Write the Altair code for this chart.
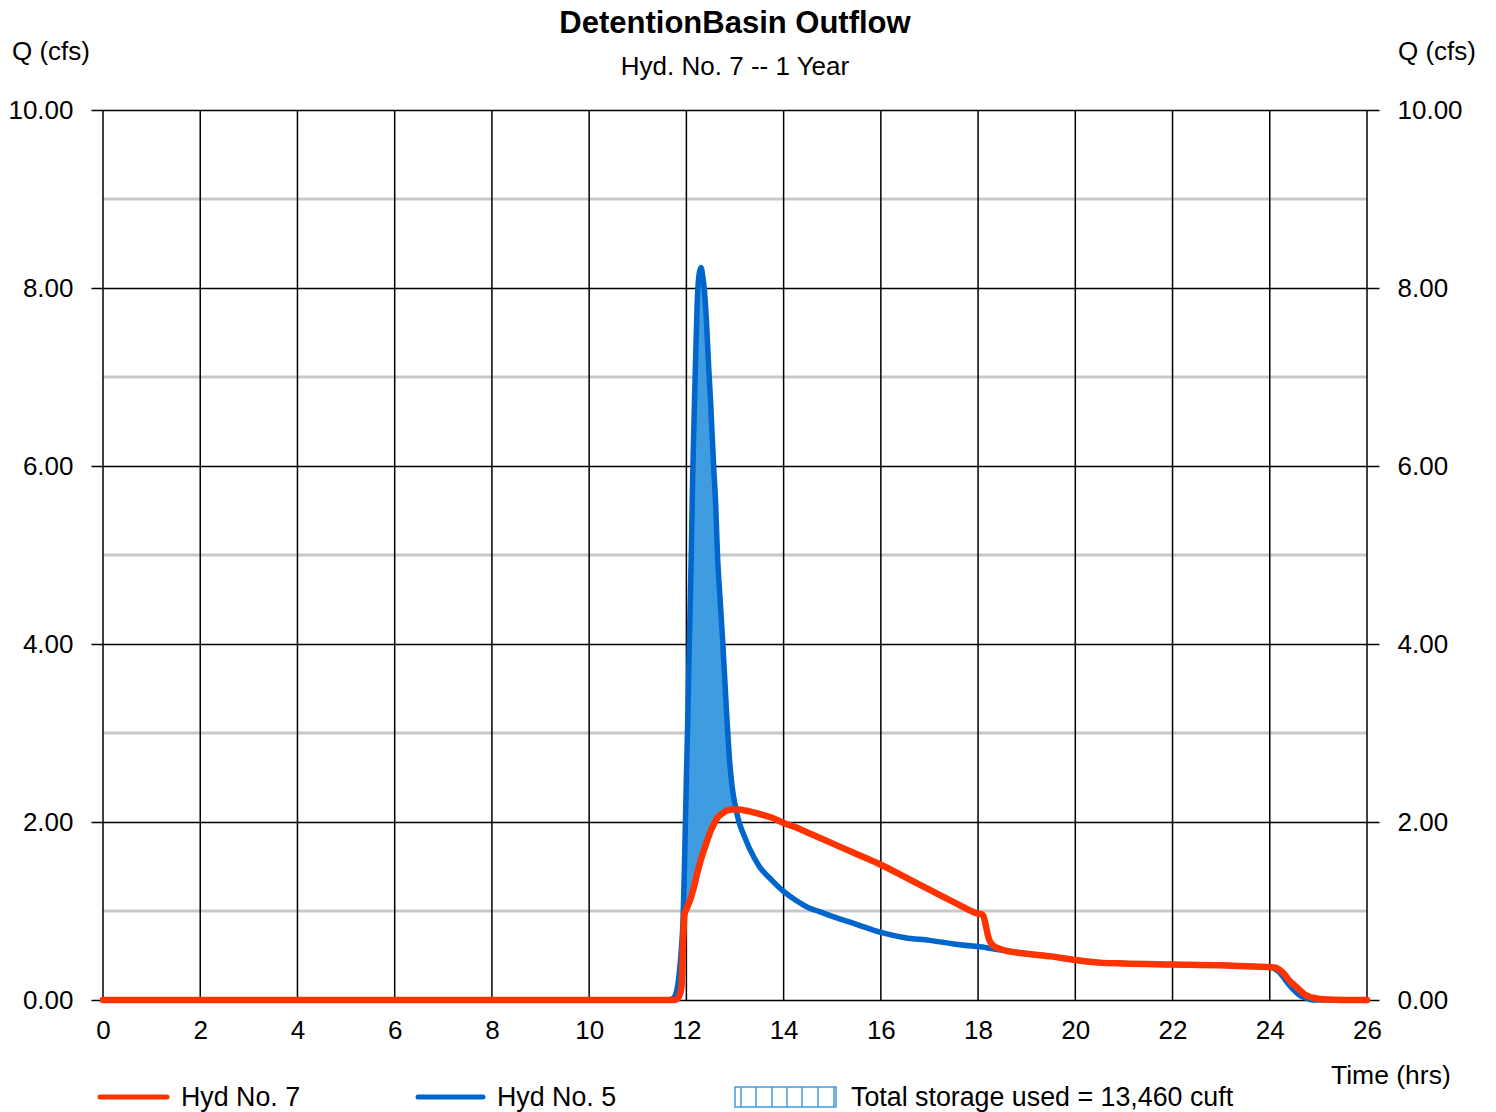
import altair as alt
import pandas as pd

FONT = "Liberation Sans"

# ---- data ----
TIME = [0, 11.6, 11.7, 11.75, 11.8, 11.85, 11.9, 11.93, 11.96, 12.0, 12.03, 12.06, 12.1, 12.13,
        12.18, 12.22, 12.26, 12.3, 12.34, 12.37, 12.42, 12.46, 12.5, 12.56, 12.6, 12.64, 12.7,
        12.75, 12.8, 12.84, 12.88, 12.92, 12.96, 13.0, 13.05, 13.1, 13.2, 13.3, 13.5, 13.75,
        14.0, 14.25, 14.5, 14.75, 15.0, 15.5, 16.0, 16.5, 17.0, 17.5, 18.0, 18.1, 18.15, 18.2,
        18.3, 18.5, 19.0, 19.5, 20.0, 20.5, 21.0, 22.0, 23.0, 23.5, 24.0, 24.1, 24.2, 24.3,
        24.4, 24.5, 24.6, 24.7, 24.8, 24.9, 25.0, 25.2, 25.5, 26.0]

# Hyd No. 5 (inflow, blue)
HYD5 = [0, 0, 0.01, 0.03, 0.1, 0.28, 0.6, 0.88, 1.5, 2.5, 3.2, 4.0, 5.0, 5.9,
        7.0, 7.8, 8.15, 8.23, 8.12, 7.98, 7.55, 7.1, 6.7, 6.0, 5.6, 5.0, 4.45,
        4.0, 3.5, 3.1, 2.75, 2.5, 2.32, 2.2, 2.07, 1.97, 1.83, 1.7, 1.5, 1.35,
        1.22, 1.12, 1.04, 0.99, 0.94, 0.85, 0.76, 0.70, 0.67, 0.63, 0.60, 0.595, 0.59, 0.585,
        0.575, 0.56, 0.52, 0.49, 0.45, 0.42, 0.41, 0.40, 0.39, 0.38, 0.37, 0.35, 0.31, 0.24,
        0.17, 0.11, 0.06, 0.03, 0.01, 0, 0, 0, 0, 0]

# Hyd No. 7 (outflow, red)
HYD7 = [0, 0, 0, 0, 0.01, 0.04, 0.15, 0.6, 0.96, 1.02, 1.06, 1.1, 1.16, 1.22,
        1.32, 1.42, 1.5, 1.58, 1.65, 1.7, 1.78, 1.84, 1.9, 1.97, 2.01, 2.05, 2.08,
        2.1, 2.12, 2.13, 2.135, 2.14, 2.14, 2.14, 2.14, 2.14, 2.13, 2.12, 2.09, 2.05,
        1.99, 1.94, 1.88, 1.82, 1.76, 1.64, 1.52, 1.38, 1.24, 1.1, 0.97, 0.955, 0.86, 0.73,
        0.615, 0.565, 0.52, 0.49, 0.45, 0.42, 0.41, 0.40, 0.39, 0.38, 0.37, 0.365, 0.34, 0.29,
        0.22, 0.17, 0.12, 0.07, 0.04, 0.025, 0.015, 0.005, 0, 0]

X_TICKS = list(range(0, 27, 2))
Y_TICKS = [0, 2, 4, 6, 8, 10]
MINOR_Q = [1, 3, 5, 7, 9]

TITLE = "DetentionBasin Outflow"
SUBTITLE = "Hyd. No. 7 -- 1 Year"
Y_TITLE = "Q (cfs)"
X_TITLE = "Time (hrs)"
LEGEND_LABELS = ["Hyd No. 7", "Hyd No. 5", "Total storage used = 13,460 cuft"]

assert len(TIME) == len(HYD5) == len(HYD7)

RED = "#ff3300"
BLUE = "#0066cc"
FILL = "#409ce0"

df = pd.DataFrame({"t": TIME, "hyd5": HYD5, "hyd7": HYD7})

W, H = 1264, 890
xsc = alt.Scale(domain=[0, 26], nice=False, zero=False)
ysc = alt.Scale(domain=[0, 10], nice=False, zero=True)

x_axis = alt.Axis(values=X_TICKS, format="d", title=None, grid=False, domain=False,
                  ticks=False, tickSize=0, labelPadding=17, labelFontSize=26,
                  labelColor="black", labelFont=FONT, labelBaseline="top",
                  labelFlush=False, labelOverlap=False)


def yaxis(orient):
    return alt.Axis(values=Y_TICKS, format=".2f", title=None, orient=orient,
                    grid=(orient == "left"), gridColor="black", gridWidth=1.5,
                    domain=False, ticks=True, tickSize=12, tickColor="black",
                    tickWidth=1.5, labelPadding=18, labelFontSize=26,
                    labelColor="black", labelFont=FONT, labelFlush=False,
                    labelOverlap=False)


# minor gray gridlines
minor = alt.Chart(pd.DataFrame({"q": MINOR_Q})).mark_rule(
    color="#c8c8c8", strokeWidth=3
).encode(
    y=alt.Y("q:Q", scale=ysc, axis=yaxis("left")),
    x=alt.XDatum(0, scale=xsc),
    x2=alt.datum(26),
)

# vertical black gridlines (carry the x axis)
vgrid = alt.Chart(pd.DataFrame({"t": X_TICKS})).mark_rule(
    color="black", strokeWidth=1.5
).encode(
    x=alt.X("t:Q", scale=xsc, axis=x_axis),
    y=alt.YDatum(0, scale=ysc, axis=None),
    y2=alt.datum(10),
)

base = alt.Chart(df)

storage = base.transform_calculate(
    lo="min(datum.hyd5, datum.hyd7)"
).mark_area(color=FILL, opacity=1, interpolate="monotone").encode(
    x=alt.X("t:Q", scale=xsc),
    y=alt.Y("hyd5:Q", scale=ysc, axis=None),
    y2="lo:Q",
)

line5 = base.mark_line(color=BLUE, strokeWidth=5.5, interpolate="monotone",
                       strokeCap="round", strokeJoin="round").encode(
    x=alt.X("t:Q", scale=xsc),
    y=alt.Y("hyd5:Q", scale=ysc, axis=None),
)

line7 = base.mark_line(color=RED, strokeWidth=6.5, interpolate="monotone",
                       strokeCap="round", strokeJoin="round").encode(
    x=alt.X("t:Q", scale=xsc),
    y=alt.Y("hyd7:Q", scale=ysc, axis=None),
)

# right axis carrier (invisible rule)
right = alt.Chart(pd.DataFrame({"q": [0]})).mark_rule(opacity=0).encode(
    y=alt.Y("q:Q", scale=ysc, axis=yaxis("right")),
)

one = pd.DataFrame({"a": [0]})


def txt(text, x, y, size=26, bold=False, align="left"):
    return alt.Chart(one).mark_text(
        font=FONT, fontSize=size, fontWeight="bold" if bold else "normal",
        color="black", align=align, baseline="alphabetic"
    ).encode(x=alt.value(x), y=alt.value(y), text=alt.value(text))


texts = [
    txt(TITLE, W / 2, -77, size=31, bold=True, align="center"),
    txt(SUBTITLE, W / 2, -35, align="center"),
    txt(Y_TITLE, -91, -50),
    txt(Y_TITLE, W + 31, -50),
    txt(X_TITLE, 1228, 974, size=26.5),
    txt(LEGEND_LABELS[0], 78, 996, size=26.8),
    txt(LEGEND_LABELS[1], 394, 996, size=26.8),
    txt(LEGEND_LABELS[2], 748, 996, size=26.8),
]

leg_red = alt.Chart(one).mark_rule(color=RED, strokeWidth=5, strokeCap="round").encode(
    x=alt.value(-3), x2=alt.value(64), y=alt.value(987))
leg_blue = alt.Chart(one).mark_rule(color=BLUE, strokeWidth=5, strokeCap="round").encode(
    x=alt.value(315), x2=alt.value(380), y=alt.value(987))
leg_box = alt.Chart(one).mark_rect(fill="white", stroke="#4499dd", strokeWidth=1.5).encode(
    x=alt.value(632), x2=alt.value(733), y=alt.value(977), y2=alt.value(997))
leg_hatch = alt.Chart(pd.DataFrame({"px": [638, 653, 669, 684, 699, 715, 731]})).mark_rule(
    color="#4499dd", strokeWidth=1.5).encode(
    x=alt.X("px:Q", scale=None, axis=None), y=alt.value(977), y2=alt.value(997))

chart = alt.layer(
    minor, vgrid, storage, line5, line7, right, leg_red, leg_blue, leg_box, leg_hatch, *texts
).resolve_scale(y="independent").properties(
    width=W, height=H,
    autosize=alt.AutoSizeParams(type="none"),
    padding={"left": 103, "top": 110, "right": 129, "bottom": 112},
    background="white",
).configure_view(stroke=None)

chart.save("out.html", embed_options={"renderer": "svg", "actions": False})
